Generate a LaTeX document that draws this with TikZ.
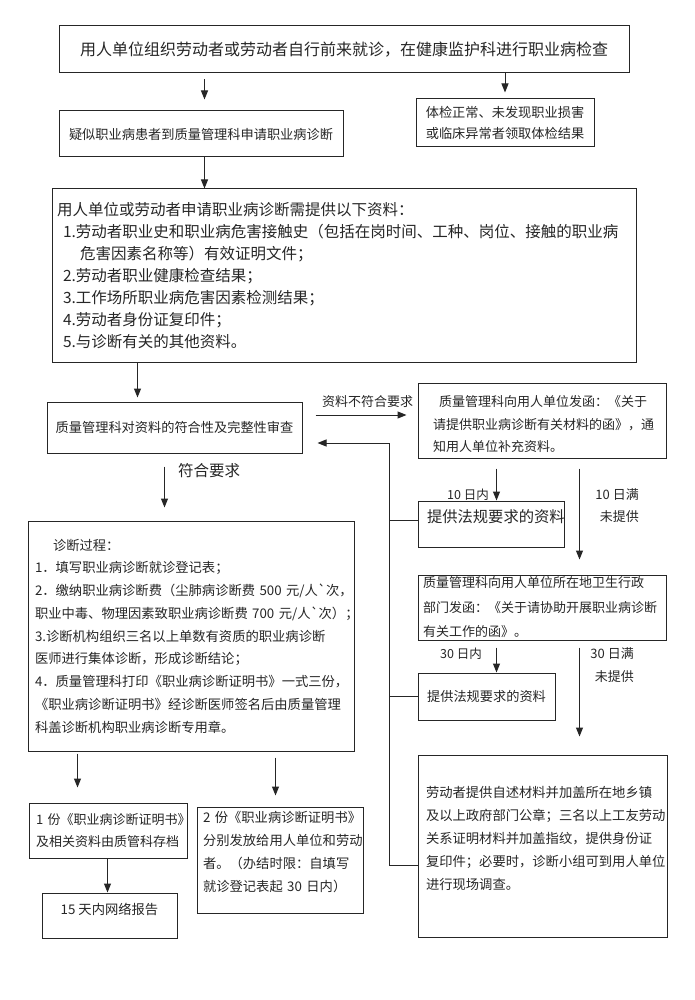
\documentclass[tikz,border=0pt]{standalone}
\usepackage{fontspec}
\newfontfamily\cjk{Noto Sans CJK SC}
\newcommand\myfs[2]{\cjk\fontsize{#1}{#2}\selectfont}
\usetikzlibrary{arrows.meta,calc}
\begin{document}
\begin{tikzpicture}[x=1pt,y=-1pt,
  box/.style={draw=black!85, line width=1pt, text=black!85, inner ysep=0pt, rectangle},
  conn/.style={draw=black!85, line width=1pt},
  arr/.style={conn, -{Triangle[length=9pt,width=7pt]}},
  lbl/.style={text=black!85, inner sep=0pt},
]
\fill[white] (0,0) rectangle (695,1000);
\useasboundingbox (0,0) rectangle (695,1000);

% boxes
\node[box, minimum width=570pt, minimum height=47pt, font=\myfs{16}{20}] (top) at (344,49.5)
  {用人单位组织劳动者或劳动者自行前来就诊，在健康监护科进行职业病检查};
\node[box, minimum width=284pt, minimum height=46pt, font=\myfs{13.2}{20}] (susp) at (201,134)
  {疑似职业病患者到质量管理科申请职业病诊断};
\node[box, minimum width=178pt, minimum height=48pt, align=center, font=\myfs{13.2}{21}] (normal) at (505,123)
  {体检正常、未发现职业损害\\或临床异常者领取体检结果};
\node[box, minimum width=584pt, minimum height=173pt, inner xsep=5pt, text width=574pt, align=left, font=\myfs{15.5}{22}] (mat) at (344,275.5)
  {用人单位或劳动者申请职业病诊断需提供以下资料：\\
   \hspace*{6pt}1.劳动者职业史和职业病危害接触史（包括在岗时间、工种、岗位、接触的职业病\\
   \hspace*{23pt}危害因素名称等）有效证明文件；\\
   \hspace*{6pt}2.劳动者职业健康检查结果；\\
   \hspace*{6pt}3.工作场所职业病危害因素检测结果；\\
   \hspace*{6pt}4.劳动者身份证复印件；\\
   \hspace*{6pt}5.与诊断有关的其他资料。};
\node[box, minimum width=255pt, minimum height=51pt, font=\myfs{13.2}{20}] (rev) at (174.5,427.5)
  {质量管理科对资料的符合性及完整性审查};
\node[box, minimum width=248pt, minimum height=75pt, inner xsep=15pt, text width=218pt, align=left, font=\myfs{13}{22.5}] (letter1) at (542,420.5)
  {\rule{0pt}{19pt}\hspace*{6pt}质量管理科向用人单位发函：《关于\\
   请提供职业病诊断有关材料的函》，通\\
   知用人单位补充资料。};
\node[box, minimum width=146pt, minimum height=46pt, inner xsep=9pt, text width=128pt, align=left, font=\myfs{15.3}{18}] (provide1) at (491,524)
  {提供法规要求的资料\rule[-16pt]{0pt}{0pt}};
\node[box, minimum width=326pt, minimum height=230pt, inner xsep=7pt, text width=312pt, align=left, font=\myfs{13.3}{22.75}] (diag) at (191,636)
  {\hspace*{18pt}诊断过程：\\
   1．填写职业病诊断就诊登记表；\\
   2．缴纳职业病诊断费（尘肺病诊断费~500~元/人\symbol{96}次，\\
   职业中毒、物理因素致职业病诊断费~700~元/人\symbol{96}次）；\\
   3.诊断机构组织三名以上单数有资质的职业病诊断\\
   医师进行集体诊断，形成诊断结论；\\
   4．质量管理科打印《职业病诊断证明书》一式三份，\\
   《职业病诊断证明书》经诊断医师签名后由质量管理\\
   科盖诊断机构职业病诊断专用章。};
\node[box, minimum width=248pt, minimum height=65pt, inner xsep=5pt, text width=238pt, align=left, font=\myfs{13}{24.5}] (letter2) at (542,607.5)
  {质量管理科向用人单位所在地卫生行政\\
   部门发函：《关于请协助开展职业病诊断\\
   有关工作的函》。};
\node[box, minimum width=137pt, minimum height=47pt, font=\myfs{13.2}{18}] (provide2) at (486.5,696.5)
  {提供法规要求的资料};
\node[box, minimum width=249pt, minimum height=182pt, inner xsep=8pt, text width=233pt, align=left, font=\myfs{13.3}{23}] (worker) at (542.5,846)
  {劳动者提供自述材料并加盖所在地乡镇\\
   及以上政府部门公章；三名以上工友劳动\\
   关系证明材料并加盖指纹，提供身份证\\
   复印件；必要时，诊断小组可到用人单位\\
   进行现场调查。\rule[-15.6pt]{0pt}{0pt}};
\node[box, minimum width=158pt, minimum height=55pt, inner xsep=7pt, text width=144pt, align=left, font=\myfs{13}{22}] (copy1) at (108,830.5)
  {1~份《职业病诊断证明书》\\
   及相关资料由质管科存档};
\node[box, minimum width=166pt, minimum height=106pt, inner xsep=6pt, text width=154pt, align=left, font=\myfs{13.3}{23}] (copy2) at (280,860)
  {2~份《职业病诊断证明书》\\
   分别发放给用人单位和劳动\\
   者。（办结时限：自填写\\
   就诊登记表起~30~日内）\rule[-17.6pt]{0pt}{0pt}};
\node[box, minimum width=135pt, minimum height=45pt, font=\myfs{13.3}{18}] (report) at (109.5,915.5)
  {15~天内网络报告\rule[-12.6pt]{0pt}{0pt}};

% labels
\node[lbl, font=\myfs{13}{16}] (l1) at (367.5,402) {资料不符合要求};
\node[lbl, anchor=west, font=\myfs{15.5}{18}] (l2) at (178,471) {符合要求};
\node[lbl, font=\myfs{12.5}{15}] (l3) at (468,495) {10~日内};
\node[lbl, align=right, anchor=east, font=\myfs{13}{22}] (l4) at (639,506) {10~日满\\未提供};
\node[lbl, font=\myfs{12.5}{15}] (l5) at (461,654) {30~日内};
\node[lbl, align=right, anchor=east, font=\myfs{13}{23}] (l6) at (634,665.5) {30~日满\\未提供};

% connectors
\draw[arr, shorten <=6pt, shorten >=11pt] ($(top.south west)+(146,0)$) -- ($(susp.north west)+(146,0)$);
\draw[arr, shorten >=6pt] (top.south -| normal.north) -- (normal.north);
\draw[arr] ($(susp.south west)+(146,0)$) -- ($(mat.north west)+(153,0)$);
\draw[arr, shorten >=4pt] ($(mat.south west)+(86,0)$) -- ($(rev.north west)+(91,0)$);
\draw[arr, shorten <=13pt, shorten >=11pt] ($(rev.east)+(0,-12.5)$) -- ($(letter1.west)+(0,-5.5)$);
\draw[arr, shorten <=13pt, shorten >=13pt] ($(rev.south west)+(118,0)$) -- ($(diag.north west)+(137,0)$);
\draw[arr, shorten <=10pt] ($(letter1.south west)+(79,0)$) -- ($(provide1.north west)+(79,0)$);
\draw[arr, shorten <=10pt, shorten >=15pt] ($(letter1.south west)+(162,0)$) -- ($(letter2.north west)+(162,0)$);
\draw[arr, shorten <=7pt] ($(letter2.south west)+(79,0)$) -- ($(provide2.north west)+(79,0)$);
\draw[arr, shorten <=7pt, shorten >=18pt] ($(letter2.south west)+(162,0)$) -- ($(worker.north west)+(162,0)$);

\coordinate (fb) at (389,443);
\draw[arr, shorten >=15pt] ($(worker.west)+(0,19)$) -| (fb) -- ($(rev.east)+(0,15.5)$);
\draw[conn] ($(provide1.west)+(0,-4)$) -| (fb);
\draw[conn] (provide2.west) -| (fb);

\draw[arr, shorten <=2pt, shorten >=15pt] ($(diag.south west)+(50,0)$) -- ($(copy1.north west)+(49,0)$);
\draw[arr, shorten <=6pt, shorten >=11pt] ($(diag.south west)+(248,0)$) -- ($(copy2.north west)+(79,0)$);
\draw[arr] ($(copy1.south west)+(79,0)$) -- ($(report.north west)+(66,0)$);
\end{tikzpicture}
\end{document}
